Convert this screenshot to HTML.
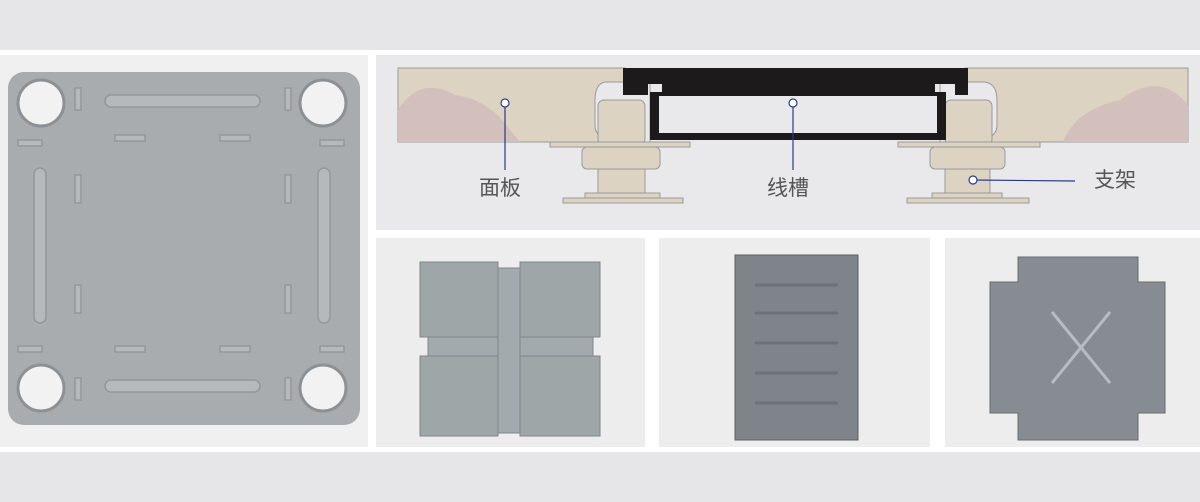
<!DOCTYPE html>
<html><head><meta charset="utf-8"><style>
html,body{margin:0;padding:0;background:#e6e6e8;}
svg{display:block}
text{font-family:"Liberation Sans","Noto Sans CJK SC",sans-serif;}
</style></head><body>
<svg width="1200" height="502" viewBox="0 0 1200 502" xmlns="http://www.w3.org/2000/svg">
<rect width="1200" height="502" fill="#e6e6e8"/>
<rect x="0" y="50" width="1200" height="5" fill="#fff"/>
<rect x="0" y="447" width="1200" height="5" fill="#fff"/>
<rect x="368" y="55" width="8" height="392" fill="#fff"/>
<rect x="376" y="230" width="824" height="8" fill="#fff"/>
<rect x="645" y="238" width="14" height="209" fill="#fff"/>
<rect x="930" y="238" width="15" height="209" fill="#fff"/>
<rect x="0" y="55" width="368" height="392" fill="#f0f0f1"/>
<rect x="376" y="55" width="824" height="175" fill="#e9e9eb"/>
<rect x="376" y="238" width="269" height="209" fill="#ededee"/>
<rect x="659" y="238" width="271" height="209" fill="#ededee"/>
<rect x="945" y="238" width="255" height="209" fill="#ededee"/>

<!-- left plate -->
<rect x="8" y="72" width="352" height="353" rx="16" fill="#a9acaf"/>
<g fill="#f2f2f2" stroke="#8d9094" stroke-width="3">
<circle cx="41" cy="103" r="23"/><circle cx="323" cy="103" r="23"/>
<circle cx="41" cy="388" r="23"/><circle cx="323" cy="388" r="23"/></g>
<g fill="#b6b9bc" stroke="#94979a" stroke-width="1.5">
<rect x="105" y="95" width="155" height="12" rx="6"/><rect x="105" y="380" width="155" height="12" rx="6"/>
<rect x="34" y="168" width="12" height="155" rx="6"/><rect x="318" y="168" width="12" height="155" rx="6"/>
<rect x="18" y="140" width="24" height="6"/><rect x="115" y="135" width="30" height="6"/><rect x="220" y="135" width="30" height="6"/><rect x="320" y="140" width="24" height="6"/>
<rect x="18" y="346" width="24" height="6"/><rect x="115" y="346" width="30" height="6"/><rect x="220" y="346" width="30" height="6"/><rect x="320" y="346" width="24" height="6"/>
<rect x="75" y="88" width="6" height="22"/><rect x="285" y="88" width="6" height="22"/><rect x="75" y="378" width="6" height="22"/><rect x="285" y="378" width="6" height="22"/>
<rect x="75" y="175" width="6" height="28"/><rect x="285" y="175" width="6" height="28"/><rect x="75" y="285" width="6" height="28"/><rect x="285" y="285" width="6" height="28"/>
</g>

<!-- top diagram -->
<rect x="398" y="68" width="227" height="74" fill="#dcd3c3" stroke="#9a9a9a"/>
<rect x="965" y="68" width="223" height="74" fill="#dcd3c3" stroke="#9a9a9a"/>
<path d="M398 142 V110 Q420 75 455 95 Q490 100 510 130 L520 142Z" fill="#d3bfbb"/>
<path d="M1188 142 V105 Q1160 70 1120 100 Q1075 110 1063 142Z" fill="#d3bfbb"/>
<path d="M625 82 H605 Q595 84 595 100 V125 Q595 142 625 142 H650 V82Z" fill="#e9e9eb" stroke="#9a9a9a"/>
<path d="M965 82 H985 Q997 84 997 100 V125 Q997 142 965 142 H940 V82Z" fill="#e9e9eb" stroke="#9a9a9a"/>
<rect x="598" y="100" width="47" height="45" rx="6" fill="#dcd3c3" stroke="#9a9a9a"/>
<rect x="945" y="100" width="47" height="45" rx="6" fill="#dcd3c3" stroke="#9a9a9a"/>
<path d="M623 68 H968 V95 H955 V84 H935 V92 H946 V140 H650 V92 H662 V84 H648 V95 H623Z" fill="#1c1a1b"/>
<rect x="659" y="96" width="278" height="37" fill="#e9e9eb"/>
<g fill="#dcd3c3" stroke="#9a9a9a">
<rect x="550" y="142" width="140" height="5"/><rect x="898" y="142" width="142" height="5"/>
<rect x="582" y="147" width="78" height="22" rx="5"/><rect x="930" y="147" width="75" height="22" rx="5"/>
<rect x="598" y="169" width="47" height="26"/><rect x="945" y="169" width="45" height="26"/>
<rect x="585" y="193" width="75" height="5"/><rect x="932" y="193" width="70" height="5"/>
<rect x="563" y="198" width="120" height="5"/><rect x="907" y="198" width="122" height="5"/>
</g>
<g stroke="#2a3a8a" stroke-width="1.2" fill="#fff">
<line x1="505" y1="103" x2="505" y2="170"/><line x1="793" y1="103" x2="793" y2="170"/><line x1="973" y1="180" x2="1075" y2="181"/>
<circle cx="505" cy="103" r="4"/><circle cx="793" cy="103" r="4"/><circle cx="973" cy="180" r="4"/></g>
<g font-size="21" fill="#555"><text x="479" y="195">面板</text><text x="767" y="195">线槽</text><text x="1094" y="187">支架</text></g>

<!-- bottom photos -->
<g fill="#9ea6a8" stroke="#7f878b">
<rect x="420" y="262" width="78" height="75"/><rect x="520" y="262" width="80" height="75"/>
<rect x="420" y="356" width="78" height="80"/><rect x="520" y="356" width="80" height="80"/>
<rect x="428" y="337" width="165" height="19" fill="#a3aaae"/><rect x="498" y="268" width="22" height="165" fill="#a3aaae"/>
</g>
<rect x="735" y="255" width="123" height="185" fill="#7e8489" stroke="#5c6166"/>
<g stroke="#6d7277" stroke-width="3">
<line x1="755" y1="285" x2="838" y2="285"/><line x1="755" y1="313" x2="838" y2="313"/><line x1="755" y1="343" x2="838" y2="343"/><line x1="755" y1="373" x2="838" y2="373"/><line x1="755" y1="403" x2="838" y2="403"/></g>
<path d="M1018 257 H1138 V282 H1165 V413 H1138 V440 H1018 V413 H990 V282 H1018Z" fill="#868c91" stroke="#666b70"/>
<g stroke="#b7bcc0" stroke-width="3"><line x1="1052" y1="312" x2="1110" y2="383"/><line x1="1110" y1="312" x2="1052" y2="383"/></g>
</svg>
</body></html>
